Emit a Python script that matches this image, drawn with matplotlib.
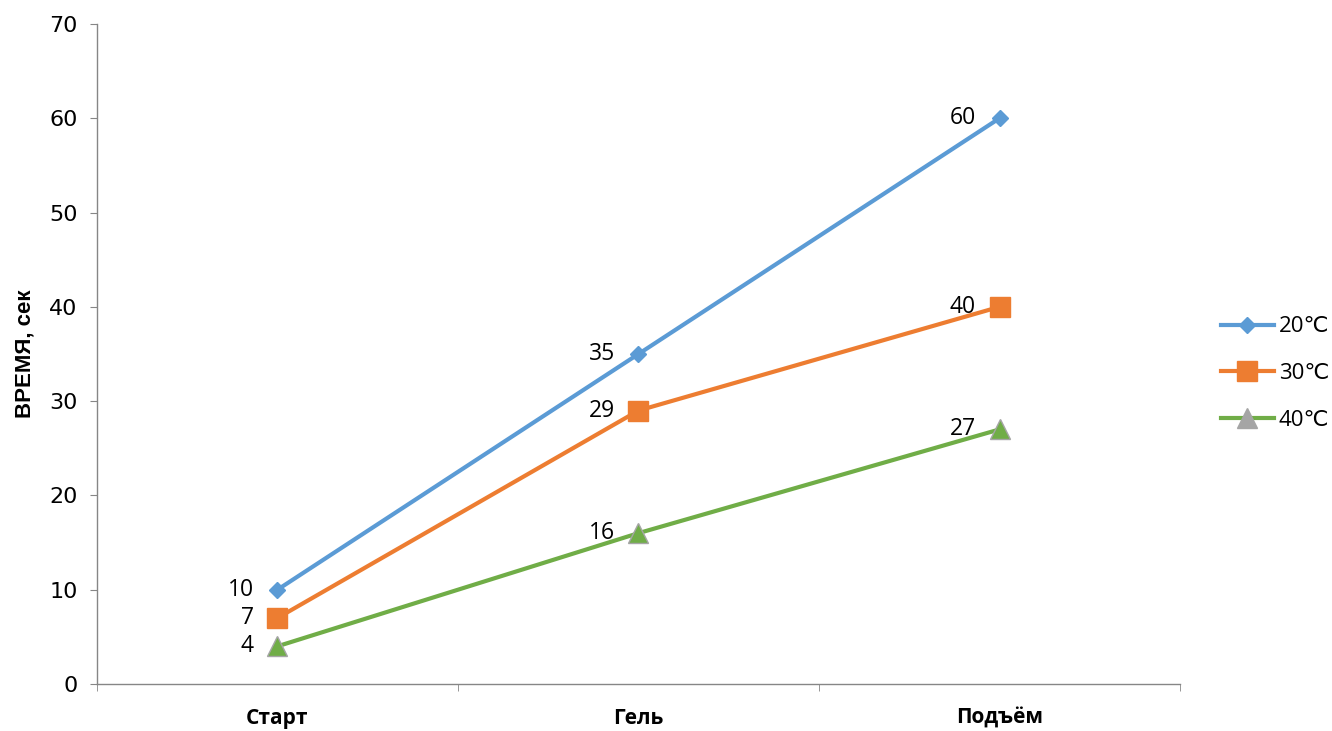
import matplotlib
matplotlib.use("Agg")
import matplotlib.pyplot as plt
from matplotlib.lines import Line2D

categories = ["Старт", "Гель", "Подъём"]
series_names = ["20℃", "30℃", "40℃"]
values_20 = [10, 35, 60]
values_30 = [7, 29, 40]
values_40 = [4, 16, 27]
y_ticks = [0, 10, 20, 30, 40, 50, 60, 70]

plt.rcParams["font.family"] = ["Open Sans", "DejaVu Sans"]

fig = plt.figure(figsize=(13.32, 7.31), dpi=100)
ax = fig.add_axes([0.0728, 0.0643, 0.8131, 0.9029])

styles = [
    dict(color="#5B9BD5", marker="D", markersize=8, mfc="#5B9BD5", mec="#5B9BD5"),
    dict(color="#ED7D31", marker="s", markersize=14, mfc="#ED7D31", mec="#ED7D31"),
    dict(color="#70AD47", marker="^", markersize=14, mfc="#70AD47", mec="#A5A5A5"),
]
x = list(range(len(categories)))
for vals, st in zip([values_20, values_30, values_40], styles):
    ax.plot(x, vals, linewidth=3, solid_capstyle="round", **st, zorder=3)
    for xi, v in zip(x, vals):
        ax.annotate(str(v), (xi, v), xytext=(-17, 0), textcoords="offset points",
                    ha="right", va="center", fontsize=16.5, color="black")

ax.set_xlim(-0.5, 2.5)
ax.set_ylim(0, 70)
ax.set_yticks(y_ticks)
ax.set_xticks(x)
ax.set_xticklabels(categories, fontsize=15, fontweight="bold")
ax.tick_params(axis="x", length=0, pad=17)
ax.set_xticks([-0.5, 0.5, 1.5, 2.5], minor=True)
ax.tick_params(axis="x", which="minor", length=5, color="#868686", direction="out")
ax.tick_params(axis="y", length=5, color="#868686", labelsize=16, pad=9)
for lab in ax.get_yticklabels():
    lab.set_family(["DejaVu Sans"])
for side in ["top", "right"]:
    ax.spines[side].set_visible(False)
for side in ["left", "bottom"]:
    ax.spines[side].set_color("#868686")
    ax.spines[side].set_linewidth(1)

ax.set_ylabel("ВРЕМЯ, сек", fontsize=16, fontweight="bold",
              family=["Liberation Sans Narrow", "Liberation Sans", "DejaVu Sans"], labelpad=10)

handles = [
    Line2D([], [], color="#5B9BD5", lw=3, marker="D", markersize=8),
    Line2D([], [], color="#ED7D31", lw=3, marker="s", markersize=14),
    Line2D([], [], color="#70AD47", lw=3, marker="^", markersize=14, mfc="#A5A5A5", mec="#A5A5A5"),
]
fig.legend(handles, series_names, loc="center left", bbox_to_anchor=(0.9015, 0.489),
           frameon=False, fontsize=16, handlelength=2.4, labelspacing=1.15, handletextpad=0.2)

fig.savefig("out.png", dpi=100)
